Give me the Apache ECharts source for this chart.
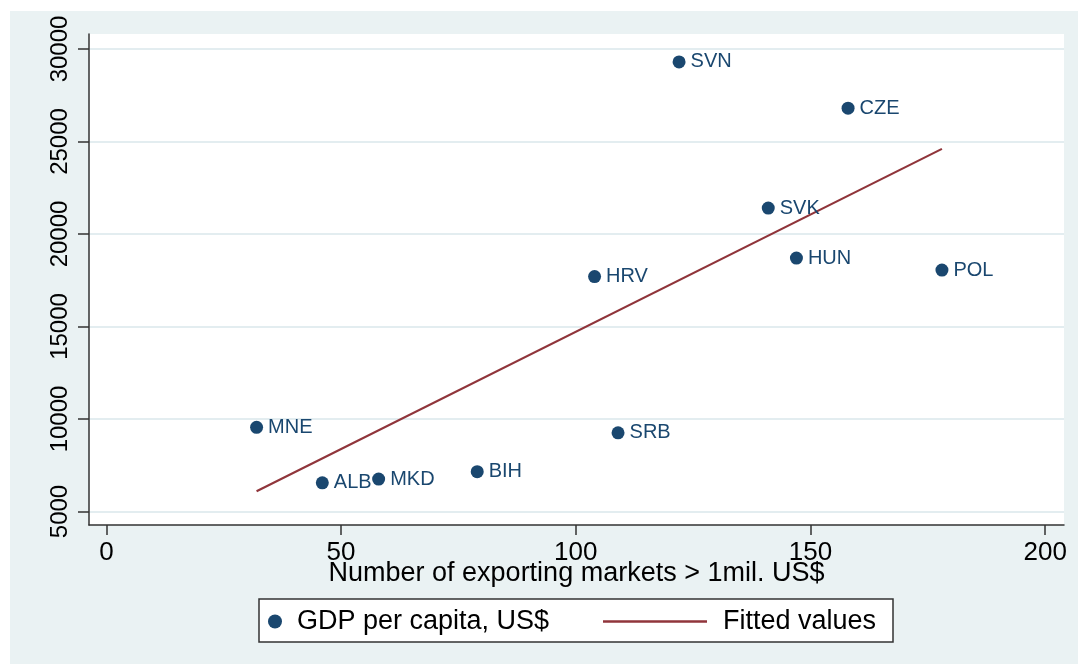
<!DOCTYPE html>
<html>
<head>
<meta charset="utf-8">
<script src="https://cdn.jsdelivr.net/npm/echarts@6/dist/echarts.min.js"></script>
<style>
html, body { margin: 0; padding: 0; background: #fff; }
#chart { position: absolute; left: 10px; top: 11px; width: 1068px; height: 653px; }
</style>
</head>
<body>
<div id="chart"></div>
<script>
// data
var countries = ['SVN', 'CZE', 'SVK', 'HUN', 'POL', 'HRV', 'MNE', 'SRB', 'BIH', 'MKD', 'ALB'];
var markets = [122, 158, 141, 147, 178, 104, 32, 109, 79, 58, 46];
var gdp = [29300, 26800, 21400, 18700, 18050, 17700, 9550, 9250, 7150, 6750, 6550];
var fitX = [32, 178];
var fitY = [6100, 24600];
var xTicks = [0, 50, 100, 150, 200];
var yTicks = [5000, 10000, 15000, 20000, 25000, 30000];

var font = '"Liberation Sans", Arial, sans-serif';
var navy = '#1a476f';
var maroon = '#90353b';

var points = [];
for (var i = 0; i < countries.length; i++) {
    points.push([markets[i], gdp[i], countries[i]]);
}
var fitted = [];
for (var j = 0; j < fitX.length; j++) {
    fitted.push([fitX[j], fitY[j]]);
}

var chart = echarts.init(document.getElementById('chart'));
var option = {
    backgroundColor: '#eaf2f3',
    animation: false,
    textStyle: { fontFamily: font },
    graphic: [{
        type: 'rect',
        z: 0,
        shape: { x: 249, y: 588, width: 634, height: 43 },
        style: { fill: '#fff', stroke: '#333', lineWidth: 1.5 }
    }],
    grid: {
        left: 79, top: 23, right: 14, bottom: 139,
        show: true, backgroundColor: '#fff', borderWidth: 0
    },
    legend: [{
        data: ['GDP per capita, US$'],
        left: 258, top: 597, z: 5,
        icon: 'circle', itemWidth: 14, itemHeight: 14,
        padding: 0,
        textStyle: { fontSize: 27, color: '#000', fontFamily: font, padding: [0, 0, 0, 10] }
    }, {
        data: [{ name: 'Fitted values', icon: 'rect' }],
        left: 593, top: 597, z: 5,
        itemWidth: 104, itemHeight: 2.5,
        padding: 0,
        textStyle: { fontSize: 27, color: '#000', fontFamily: font, padding: [0, 0, 0, 11] }
    }],
    xAxis: {
        type: 'value',
        min: -3.7, max: 204,
        name: 'Number of exporting markets > 1mil. US$',
        nameLocation: 'middle',
        nameGap: 35,
        nameMoveOverlap: false,
        nameTextStyle: { fontSize: 27, color: '#000', fontFamily: font },
        axisLine: { show: true, onZero: false, lineStyle: { color: '#333', width: 1.5 } },
        axisTick: { show: true, length: 10, customValues: xTicks, lineStyle: { color: '#333', width: 1.5 } },
        axisLabel: { customValues: xTicks, fontSize: 26, color: '#000', margin: 15 },
        splitLine: { show: false }
    },
    yAxis: {
        type: 'value',
        min: 4270, max: 30810,
        axisLine: { show: true, onZero: false, lineStyle: { color: '#333', width: 1.5 } },
        axisTick: { show: true, length: 11, customValues: yTicks, lineStyle: { color: '#333', width: 1.5 } },
        axisLabel: {
            customValues: yTicks, fontSize: 24, color: '#000', rotate: 90, margin: 17,
            formatter: function (v) { return String(v); }
        },
        splitLine: { show: true, lineStyle: { color: '#e3edf0', width: 2 } }
    },
    series: [{
        name: 'GDP per capita, US$',
        type: 'scatter',
        data: points,
        symbolSize: 13,
        itemStyle: { color: navy, opacity: 1 },
        label: {
            show: true,
            position: 'right',
            distance: 5,
            color: navy,
            fontSize: 20,
            fontFamily: font,
            formatter: function (p) { return p.data[2]; }
        },
        z: 3
    }, {
        name: 'Fitted values',
        type: 'line',
        data: fitted,
        symbol: 'none',
        lineStyle: { color: maroon, width: 2.2 },
        itemStyle: { color: maroon },
        z: 2
    }]
};
chart.setOption(option);
</script>
</body>
</html>
